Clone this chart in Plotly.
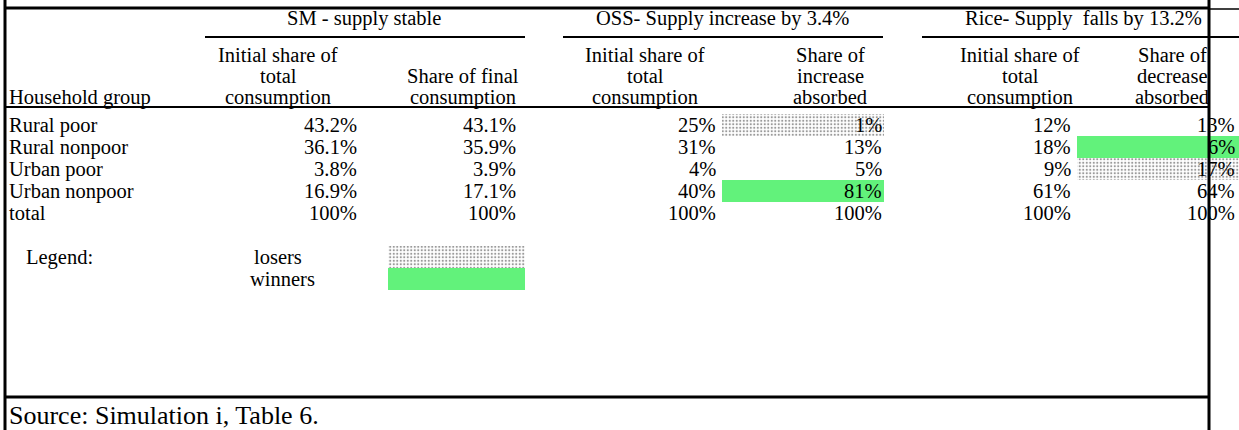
import plotly.graph_objects as go

# ---------------- data ----------------
groups = ["Rural poor", "Rural nonpoor", "Urban poor", "Urban nonpoor", "total"]
sm_initial = ["43.2%", "36.1%", "3.8%", "16.9%", "100%"]
sm_final = ["43.1%", "35.9%", "3.9%", "17.1%", "100%"]
oss_initial = ["25%", "31%", "4%", "40%", "100%"]
oss_absorbed = ["1%", "13%", "5%", "81%", "100%"]
rice_initial = ["12%", "18%", "9%", "61%", "100%"]
rice_absorbed = ["13%", "6%", "17%", "64%", "100%"]
oss_status = ["loser", "", "", "winner", ""]
rice_status = ["", "winner", "loser", "", ""]

group_titles = ["SM - supply stable", "OSS- Supply increase by 3.4%", "Rice- Supply  falls by 13.2%"]
sub_headers = [
    ["Initial share of", "total", "consumption"],
    ["", "Share of final", "consumption"],
    ["Initial share of", "total", "consumption"],
    ["Share of", "increase", "absorbed"],
    ["Initial share of", "total", "consumption"],
    ["Share of", "decrease", "absorbed"],
]
legend_labels = ["losers", "winners"]
legend_status = ["loser", "winner"]
source_text = "Source: Simulation i, Table 6."

# ---------------- layout constants ----------------
W, H = 1239, 430
FONT = "Liberation Serif, Times New Roman, serif"
FS = 20.5
col_right = [358, 517, 717, 883, 1072, 1236]
col_center = [278, 463, 645, 830, 1020, 1172]
cell_left = [None, None, None, 722, None, 1077]
cell_right = [None, None, None, 884, None, 1239]
group_center = [364, 722, 1083]
group_span = [(205, 525), (563, 883), (922, 1239)]
row_title_y = 18
sub_y = [55, 76, 97]
row_y0 = 125
row_h = 22
legend_y = [257, 279]
GREEN = "#62F27B"

fig = go.Figure()
ann = []


def txt(x, y, s, anchor="center", size=FS):
    ann.append(dict(x=x, y=y, xref="x", yref="y", text=s, showarrow=False,
                    xanchor=anchor, yanchor="middle", borderpad=0,
                    font=dict(family=FONT, size=size, color="black")))


def add_cells(ys, x0s, x1s, statuses, name):
    # shaded cells drawn as horizontal bars on pixel-scaled axes
    for st in ["loser", "winner"]:
        yy = [y for y, s in zip(ys, statuses) if s == st]
        bb = [a for a, s in zip(x0s, statuses) if s == st]
        ww = [b - a for a, b, s in zip(x0s, x1s, statuses) if s == st]
        if not yy:
            continue
        if st == "winner":
            marker = dict(color=GREEN, line=dict(width=0))
        else:
            marker = dict(color="white", line=dict(width=0),
                          pattern=dict(shape=".", fgcolor="#333333", bgcolor="white",
                                       size=3.5, solidity=0.3))
        fig.add_trace(go.Bar(orientation="h", y=yy, x=ww, base=bb, width=row_h,
                             marker=marker, hoverinfo="skip", showlegend=False, name=name))


row_ys = [row_y0 + i * row_h for i in range(len(groups))]

add_cells(row_ys, [cell_left[3]] * len(groups), [cell_right[3]] * len(groups), oss_status, "oss")
add_cells(row_ys, [cell_left[5]] * len(groups), [cell_right[5]] * len(groups), rice_status, "rice")
add_cells(legend_y, [388, 388], [525, 525], legend_status, "legend")

# group titles
for t, cx in zip(group_titles, group_center):
    txt(cx, row_title_y, t)
# sub headers
for hdr, cx in zip(sub_headers, col_center):
    for line, y in zip(hdr, sub_y):
        if line:
            txt(cx, y, line)
txt(8, sub_y[2], "Household group", "left")

# body
columns = [sm_initial, sm_final, oss_initial, oss_absorbed, rice_initial, rice_absorbed]
for i, g in enumerate(groups):
    y = row_ys[i]
    txt(8, y, g, "left")
    for col, xr in zip(columns, col_right):
        txt(xr, y, col[i], "right")

# legend
txt(25, legend_y[0], "Legend:", "left")
txt(278, legend_y[0], legend_labels[0])
txt(282, legend_y[1], legend_labels[1])

# source
txt(8, 415, source_text, "left", size=26)

# lines
shapes = []


def line(x0, y0, x1, y1, w=2):
    shapes.append(dict(type="line", xref="x", yref="y", x0=x0, y0=y0, x1=x1, y1=y1,
                       line=dict(color="black", width=w), layer="above"))


line(5, 8, 1209, 8, 3)
line(1209, 9, 1239, 9, 1.5)
for a, b in group_span:
    line(a, 37, b, 37, 2)
line(5, 107, 1209, 107, 2)
line(5, 397, 1209, 397, 3)
line(5, 0, 5, 430, 3)
line(1209, 0, 1209, 430, 3)

fig.update_layout(
    width=W, height=H, margin=dict(l=0, r=0, t=0, b=0),
    paper_bgcolor="white", plot_bgcolor="white",
    xaxis=dict(range=[0, W], visible=False, fixedrange=True),
    yaxis=dict(range=[H, 0], visible=False, fixedrange=True),
    annotations=ann, shapes=shapes, bargap=0, barmode="overlay",
    showlegend=False,
)
fig.write_html(
    "out.html",
    config={"displayModeBar": False, "staticPlot": True},
    post_script="document.body.style.margin='0px';document.body.style.overflow='hidden';",
)
